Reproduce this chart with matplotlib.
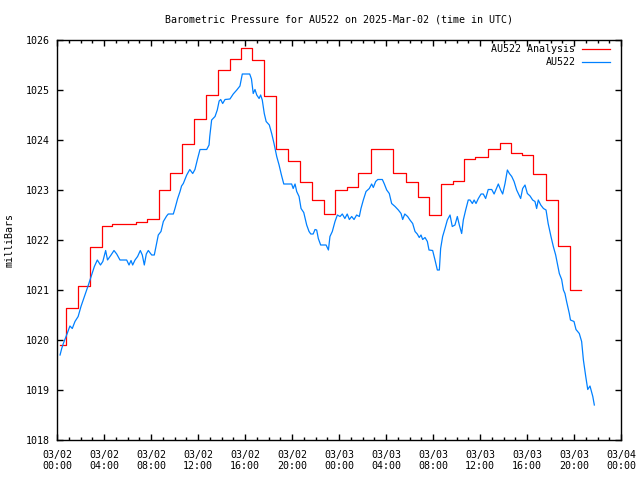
import datetime as dt
import matplotlib
matplotlib.use('Agg')
import matplotlib.pyplot as plt
import matplotlib.dates as mdates

# hours after 2025-03-02 00:00 UTC
an_hours = [0.25, 0.8, 1.8, 2.8, 3.8, 4.7, 5.7, 6.7, 7.7, 8.7, 9.6, 10.6, 11.7,
            12.7, 13.7, 14.7, 15.7, 16.6, 17.6, 18.6, 19.7, 20.7, 21.7, 22.7,
            23.7, 24.7, 25.6, 26.7, 27.7, 28.6, 29.7, 30.7, 31.65, 32.7, 33.7,
            34.6, 35.6, 36.7, 37.7, 38.6, 39.6, 40.5, 41.6, 42.6, 43.7, 44.6]
an_mb = [1019.90, 1020.65, 1021.09, 1021.86, 1022.28, 1022.32, 1022.32, 1022.37,
         1022.43, 1023.01, 1023.35, 1023.93, 1024.43, 1024.90, 1025.40, 1025.62,
         1025.85, 1025.60, 1024.88, 1023.83, 1023.58, 1023.17, 1022.80, 1022.52,
         1023.01, 1023.07, 1023.35, 1023.83, 1023.83, 1023.35, 1023.17, 1022.87,
         1022.50, 1023.13, 1023.19, 1023.63, 1023.67, 1023.82, 1023.95, 1023.74,
         1023.70, 1023.33, 1022.80, 1021.88, 1021.01, 1021.01]

obs_hours = [0.26, 0.40, 0.54, 0.82, 1.10, 1.30, 1.53, 1.80, 2.04, 2.38, 2.67, 2.90,
             3.18, 3.43, 3.70, 3.90, 4.14, 4.30, 4.60, 4.85, 5.08, 5.36, 5.93, 6.13,
             6.30, 6.44, 6.64, 6.86, 7.09, 7.26, 7.43, 7.60, 7.77, 8.06, 8.28, 8.48,
             8.62, 8.85, 9.05, 9.33, 9.47, 9.90, 10.04, 10.27, 10.47, 10.60, 10.75,
             11.04, 11.30, 11.55, 11.74, 11.97, 12.17, 12.74, 12.94, 13.00, 13.16,
             13.45, 13.64, 13.80, 13.93, 14.10, 14.30, 14.72, 15.00, 15.30, 15.57,
             15.77, 16.40, 16.55, 16.70, 16.85, 17.00, 17.20, 17.33, 17.47, 17.64,
             17.80, 18.07, 18.27, 18.47, 18.70, 18.90, 19.10, 19.30, 19.97, 20.10,
             20.26, 20.40, 20.60, 20.77, 21.00, 21.25, 21.45, 21.60, 21.80, 21.96,
             22.10, 22.24, 22.44, 22.90, 23.10, 23.23, 23.43, 23.66, 23.86, 24.09,
             24.28, 24.50, 24.70, 24.88, 25.08, 25.28, 25.50, 25.73, 25.87, 26.07,
             26.30, 26.58, 26.78, 26.92, 27.12, 27.30, 27.69, 27.86, 28.06, 28.28,
             28.48, 28.77, 29.05, 29.28, 29.42, 29.60, 29.84, 30.04, 30.27, 30.47,
             30.66, 30.83, 30.98, 31.12, 31.32, 31.52, 31.66, 31.97, 32.17, 32.37,
             32.54, 32.65, 32.82, 33.02, 33.22, 33.45, 33.64, 33.87, 34.07, 34.24,
             34.44, 34.58, 34.78, 35.00, 35.15, 35.35, 35.50, 35.66, 35.86, 36.09,
             36.28, 36.48, 36.70, 37.00, 37.20, 37.36, 37.56, 37.76, 37.93, 38.13,
             38.33, 38.50, 38.70, 38.90, 39.12, 39.32, 39.46, 39.63, 39.83, 40.03,
             40.26, 40.48, 40.68, 40.82, 40.96, 41.17, 41.40, 41.62, 41.80, 42.04,
             42.24, 42.44, 42.61, 42.75, 42.95, 43.10, 43.23, 43.37, 43.60, 43.70,
             44.00, 44.17, 44.45, 44.65, 44.80, 45.00, 45.17, 45.36, 45.45, 45.60,
             45.73]
obs_mb = [1019.70, 1019.83, 1019.93, 1020.10, 1020.28, 1020.23, 1020.37, 1020.47,
          1020.67, 1020.90, 1021.10, 1021.27, 1021.47, 1021.60, 1021.50, 1021.57,
          1021.79, 1021.60, 1021.70, 1021.79, 1021.72, 1021.60, 1021.60, 1021.50,
          1021.59, 1021.50, 1021.60, 1021.67, 1021.79, 1021.70, 1021.50, 1021.72,
          1021.79, 1021.70, 1021.70, 1021.93, 1022.10, 1022.17, 1022.37, 1022.48,
          1022.52, 1022.52, 1022.63, 1022.83, 1022.97, 1023.08, 1023.13, 1023.30,
          1023.41, 1023.33, 1023.41, 1023.63, 1023.81, 1023.81, 1023.90, 1024.07,
          1024.40, 1024.47, 1024.60, 1024.78, 1024.81, 1024.73, 1024.81, 1024.82,
          1024.92, 1025.00, 1025.08, 1025.32, 1025.32, 1025.22, 1024.93, 1025.01,
          1024.90, 1024.83, 1024.90, 1024.80, 1024.53, 1024.37, 1024.30, 1024.13,
          1023.93, 1023.67, 1023.50, 1023.30, 1023.12, 1023.12, 1023.03, 1023.12,
          1022.97, 1022.87, 1022.63, 1022.55, 1022.30, 1022.17, 1022.12, 1022.12,
          1022.21, 1022.20, 1022.03, 1021.90, 1021.90, 1021.80, 1022.07, 1022.17,
          1022.37, 1022.50, 1022.47, 1022.52, 1022.43, 1022.52, 1022.41, 1022.47,
          1022.41, 1022.50, 1022.47, 1022.63, 1022.80, 1022.97, 1023.03, 1023.12,
          1023.05, 1023.17, 1023.21, 1023.21, 1023.12, 1023.00, 1022.93, 1022.73,
          1022.67, 1022.60, 1022.53, 1022.41, 1022.52, 1022.47, 1022.40, 1022.33,
          1022.17, 1022.12, 1022.05, 1022.10, 1022.01, 1022.05, 1021.97, 1021.80,
          1021.79, 1021.60, 1021.40, 1021.40, 1021.83, 1022.07, 1022.23, 1022.40,
          1022.50, 1022.27, 1022.30, 1022.47, 1022.30, 1022.13, 1022.40, 1022.60,
          1022.80, 1022.80, 1022.73, 1022.80, 1022.73, 1022.83, 1022.92, 1022.92,
          1022.83, 1023.01, 1023.01, 1022.92, 1023.01, 1023.12, 1023.00, 1022.92,
          1023.13, 1023.40, 1023.33, 1023.27, 1023.17, 1023.00, 1022.90, 1022.83,
          1023.03, 1023.10, 1022.93, 1022.88, 1022.80, 1022.77, 1022.63, 1022.80,
          1022.70, 1022.63, 1022.60, 1022.33, 1022.07, 1021.87, 1021.70, 1021.50,
          1021.33, 1021.21, 1021.00, 1020.93, 1020.77, 1020.53, 1020.40, 1020.37,
          1020.21, 1020.13, 1019.97, 1019.60, 1019.27, 1019.01, 1019.08, 1019.00,
          1018.87, 1018.70]

t0 = dt.datetime(2025, 3, 2)
an_t = [t0 + dt.timedelta(hours=h) for h in an_hours]
obs_t = [t0 + dt.timedelta(hours=h) for h in obs_hours]

plt.rcParams['font.family'] = ['DejaVu Sans Mono']
fs = 7.2

fig = plt.figure(figsize=(6.4, 4.8), dpi=100)
ax = fig.add_axes([57/640, 40/480, 564/640, 400/480])

ax.plot(an_t, an_mb, color='#ff0000', lw=0.9, drawstyle='steps-post')
ax.plot(obs_t, obs_mb, color='#0080ff', lw=0.9)

ax.set_xlim(t0, t0 + dt.timedelta(hours=48))
ax.set_ylim(1018, 1026)
ax.set_yticks(range(1018, 1027))
ax.xaxis.set_major_locator(mdates.HourLocator(byhour=range(0, 24, 4)))
ax.xaxis.set_minor_locator(mdates.HourLocator())
ax.xaxis.set_major_formatter(mdates.DateFormatter('%m/%d\n%H:%M'))
ax.tick_params(which='both', direction='in', top=True, right=True,
               labelsize=fs, width=1)
ax.tick_params(which='major', length=4, pad=5)
ax.tick_params(axis='x', which='major', pad=7)
ax.tick_params(which='minor', length=2.5)
for s in ax.spines.values():
    s.set_linewidth(1)

ax.set_ylabel('milliBars', fontsize=fs, labelpad=8)
fig.text(339/640, 1 - 19/480, 'Barometric Pressure for AU522 on 2025-Mar-02 (time in UTC)',
         ha='center', va='center', fontsize=fs)

# gnuplot-style key: right-aligned text, sample line on the right
for i, (lab, col) in enumerate([('AU522 Analysis', '#ff0000'), ('AU522', '#0080ff')]):
    y = 0.9775 - i * 0.0325
    ax.text(0.919, y, lab, transform=ax.transAxes, ha='right', va='center', fontsize=fs)
    ax.plot([0.931, 0.980], [y, y], transform=ax.transAxes, color=col, lw=0.9)

fig.savefig('out.png', dpi=100)
